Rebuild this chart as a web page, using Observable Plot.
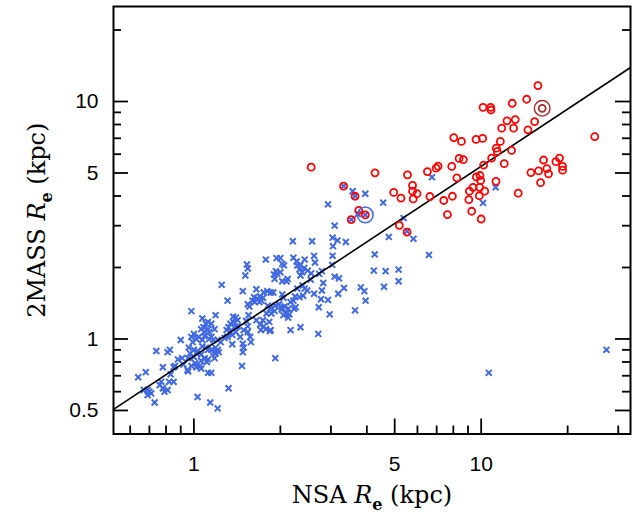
<!DOCTYPE html>
<html><head><meta charset="utf-8">
<script src="https://cdn.jsdelivr.net/npm/d3@7"></script>
<script src="https://cdn.jsdelivr.net/npm/@observablehq/plot@0.6"></script>
<style>body{margin:0;background:#fff}</style>
</head><body><div id="chart"></div>
<script>
// Blue crosses: NSA Re (x) and 2MASS Re (y), kpc
const blueNSA = [2.93,3.09,3.57,3.95,4.56,6.74,11.23,10.15,5.37,5.52,3.32,3.64,3.95,3.53,3.72,3.04,3.16,3.05,3.38,3.04,2.58,2.21,4.77,5.81,4.26,6.58,4.23,4.65,5.16,5.16,4.59,3.81,3.92,3.96,3.64,2.97,2.71,3.33,3.18,2.93,3.09,3.20,2.82,2.79,2.77,2.79,3.03,2.62,2.64,2.43,2.22,2.73,2.35,2.42,2.33,2.38,2.49,2.28,2.56,2.35,2.55,2.39,2.43,2.29,2.48,2.62,2.25,2.33,2.40,2.22,2.17,2.26,2.72,2.23,2.35,2.17,1.92,2.10,2.15,2.05,2.13,2.07,2.03,2.05,1.98,1.92,2.02,2.13,1.94,2.00,2.03,2.06,1.78,1.53,1.54,1.51,1.93,1.90,1.95,2.00,1.91,2.12,2.10,2.03,2.29,1.25,1.48,1.31,1.65,1.80,1.85,1.89,1.75,1.70,1.74,1.72,1.66,1.62,1.60,1.63,1.54,1.56,1.69,1.81,1.84,1.79,1.91,1.86,2.02,1.74,1.70,1.75,1.78,1.84,1.65,1.55,1.52,1.54,1.54,1.57,1.40,1.42,1.37,1.34,1.39,1.42,1.32,1.30,1.34,1.36,1.31,1.28,1.40,1.36,1.19,1.07,0.98,1.08,1.10,1.12,1.15,1.06,1.12,1.13,1.09,1.09,1.15,1.13,1.07,1.07,1.10,1.12,1.15,1.19,1.21,1.19,1.17,1.06,1.09,1.12,1.03,1.02,1.00,0.97,0.955,1.00,1.06,0.98,1.02,1.05,1.06,1.12,1.15,0.955,0.92,0.91,0.88,0.96,0.90,0.825,0.81,0.74,0.86,0.85,0.83,0.78,0.85,0.82,0.77,0.76,0.78,0.79,0.81,0.68,0.64,0.67,0.69,0.70,0.71,0.69,0.73,1.03,1.14,1.21,1.32,1.47,1.21,1.24,1.49,1.48,1.00,0.98,1.02,1.04,0.99,1.11,1.18,1.22,0.95,1.01,1.37,1.71,1.83,1.85,27.3,10.63,1.18,1.45,1.49,1.58,1.48,1.17];
const blue2MASS = [3.69,3.00,4.19,4.09,3.75,4.80,4.35,3.74,3.23,2.84,4.40,3.99,3.33,3.18,3.36,2.67,2.60,2.46,2.56,2.24,2.58,2.58,2.69,2.64,2.27,2.26,1.94,1.93,1.96,1.75,1.66,1.65,1.59,1.45,1.32,1.27,1.05,1.64,1.55,1.46,1.83,1.80,1.72,1.60,1.47,1.93,2.05,2.24,2.10,2.16,2.20,1.88,2.05,1.99,1.96,1.91,1.94,2.12,1.89,1.85,1.78,1.68,1.63,1.63,1.60,1.55,1.51,1.50,1.52,1.45,1.43,1.36,1.36,1.34,1.12,1.09,0.83,1.28,1.27,1.26,1.34,1.37,1.54,1.49,1.40,1.38,1.36,1.23,2.19,2.19,2.07,2.04,2.16,2.06,1.98,1.85,1.93,1.87,1.88,1.91,1.79,1.79,1.75,1.75,2.04,1.69,1.59,1.45,1.62,1.59,1.57,1.57,1.57,1.51,1.49,1.45,1.48,1.50,1.45,1.43,1.40,1.37,1.43,1.38,1.34,1.28,1.31,1.28,1.33,1.20,1.15,1.13,1.10,1.08,1.20,1.26,1.19,1.13,1.07,1.02,1.23,1.20,1.18,1.16,1.13,1.13,1.12,1.09,1.07,1.04,1.02,1.01,1.07,0.95,1.26,1.22,1.31,1.12,1.16,1.18,1.16,1.10,1.10,1.07,1.07,1.03,1.02,1.00,0.99,0.93,0.92,0.90,0.90,0.92,0.90,0.87,0.88,0.86,0.83,0.82,0.89,0.87,0.90,0.87,0.83,0.84,0.81,0.77,0.76,0.77,0.75,0.72,0.72,0.73,0.78,0.83,0.82,0.92,0.99,0.90,0.88,0.89,0.77,0.76,0.71,0.76,0.66,0.66,0.66,0.64,0.62,0.60,0.61,0.725,0.69,0.61,0.61,0.60,0.59,0.58,0.54,0.57,0.54,0.51,0.62,0.77,0.99,0.97,0.92,0.88,1.05,1.02,1.00,1.02,0.97,0.80,0.83,0.88,0.74,0.79,1.24,1.09,1.18,1.09,0.90,0.72,1.10,1.02,1.09,0.97,0.955,0.99];

// Red circles: NSA Re (x) and 2MASS Re (y), kpc
const redNSA = [2.56,3.32,3.64,3.75,3.95,3.53,4.27,4.96,5.26,5.54,5.77,5.77,5.98,5.80,5.19,5.52,6.50,6.97,7.08,6.63,7.41,7.63,7.94,7.90,8.03,8.23,8.54,8.38,8.67,9.10,9.06,9.27,9.37,9.60,10.12,9.62,9.91,9.96,9.88,10.29,9.85,10.0,10.15,10.79,10.82,10.20,10.88,11.26,11.29,11.38,11.66,12.03,11.79,12.30,12.97,13.14,12.83,12.76,13.46,14.40,14.55,15.35,15.76,14.90,15.85,16.49,16.10,16.93,17.16,18.20,18.74,19.20,19.20,24.85];
const red2MASS = [5.29,4.40,3.99,3.48,3.33,3.18,5.01,4.14,3.92,4.91,4.43,4.19,4.09,3.89,3.01,2.82,5.07,5.24,5.34,3.98,3.83,3.34,3.99,5.33,7.05,4.77,6.79,5.76,5.69,4.19,3.86,3.45,4.35,6.92,6.99,4.81,4.88,4.65,4.35,4.19,4.01,3.20,9.45,9.45,9.21,5.40,5.78,4.61,6.36,6.16,6.79,5.47,7.72,8.29,7.72,8.39,9.83,6.22,4.11,10.22,7.60,8.23,11.67,5.02,5.10,5.67,4.55,5.22,4.96,5.58,5.78,5.33,5.14,7.12];

// Highlighted objects (ringed)
const ringBlueNSA = [3.95], ringBlue2MASS = [3.33];
const ringRedNSA = [16.31], ringRed2MASS = [9.36];

// Fitted relation (end points read at the frame edges)
const fitNSA = [0.525, 33.1];
const fit2MASS = [0.505, 13.9];

// Axis ticks and labels
const xMajor = [1, 5, 10];
const xMinor = [0.6, 0.7, 0.8, 0.9, 2, 3, 4, 6, 7, 8, 9, 20, 30];
const yMajor = [0.5, 1, 5, 10];
const yMinor = [0.6, 0.7, 0.8, 0.9, 2, 3, 4, 6, 7, 8, 9, 20];
const xTitle = "NSA Re (kpc)";
const yTitle = "2MASS Re (kpc)";

const W = 634, H = 516, mL = 113, mR = 4, mT = 6, mB = 82.5;
const pw = W - mL - mR, ph = H - mT - mB;
const majorLen = 15, minorLen = 8;
const blueC = "#4169e1", redC = "#ff0000", darkRed = "#a52a2a";

const bIdx = d3.range(blueNSA.length), rIdx = d3.range(redNSA.length);

const chart = Plot.plot({
  width: W, height: H,
  marginLeft: mL, marginRight: mR, marginTop: mT, marginBottom: mB,
  x: {type: "log", domain: [0.525, 33.1], axis: null},
  y: {type: "log", domain: [0.398, 25.12], axis: null},
  style: {background: "white", fontFamily: "Liberation Sans"},
  marks: [
    // ticks (inward) bottom, left, right
    Plot.tickX(xMajor, {x: d => d, insetTop: ph - majorLen, stroke: "black", strokeWidth: 1.8}),
    Plot.tickX(xMinor, {x: d => d, insetTop: ph - minorLen, stroke: "black", strokeWidth: 1.8}),
    Plot.tickY(yMajor, {y: d => d, insetRight: pw - majorLen, stroke: "black", strokeWidth: 1.8}),
    Plot.tickY(yMinor, {y: d => d, insetRight: pw - minorLen, stroke: "black", strokeWidth: 1.8}),
    Plot.tickY(yMajor, {y: d => d, insetLeft: pw - majorLen, stroke: "black", strokeWidth: 1.8}),
    Plot.tickY(yMinor, {y: d => d, insetLeft: pw - minorLen, stroke: "black", strokeWidth: 1.8}),
    // data
    Plot.dot(bIdx, {x: i => blueNSA[i], y: i => blue2MASS[i], symbol: "times", r: 2.8, stroke: blueC, strokeWidth: 2}),
    Plot.line(d3.range(fitNSA.length), {x: i => fitNSA[i], y: i => fit2MASS[i], stroke: "black", strokeWidth: 1.6}),
    Plot.dot(rIdx, {x: i => redNSA[i], y: i => red2MASS[i], r: 3.5, stroke: redC, strokeWidth: 1.8, fill: "none"}),
    Plot.dot([0], {x: i => ringRedNSA[i], y: i => ringRed2MASS[i], r: 3.5, stroke: darkRed, strokeWidth: 1.8, fill: "none"}),
    Plot.dot([0], {x: i => ringRedNSA[i], y: i => ringRed2MASS[i], r: 7.8, stroke: darkRed, strokeWidth: 1.4, fill: "none"}),
    Plot.dot([0], {x: i => ringBlueNSA[i], y: i => ringBlue2MASS[i], r: 7.8, stroke: blueC, strokeWidth: 1.5, fill: "none"}),
    // tick labels
    Plot.text(xMajor, {x: d => d, text: d => String(d), frameAnchor: "bottom", dy: 37, fontSize: 21, fill: "black"}),
    Plot.text(yMajor, {y: d => d, text: d => String(d), frameAnchor: "left", dx: -15, textAnchor: "end", fontSize: 21, fill: "black"}),
    // axis titles
    Plot.text([xTitle], {text: d => d, frameAnchor: "bottom", dy: 69, textAnchor: "middle", fontSize: 24, fontFamily: "DejaVu Serif", fill: "black"}),
    Plot.text([yTitle], {text: d => d, frameAnchor: "left", dx: -76, textAnchor: "middle", rotate: -90, fontSize: 24, fontFamily: "DejaVu Serif", fill: "black"}),
    Plot.frame({stroke: "black", strokeWidth: 2})
  ]
});

document.getElementById("chart").appendChild(chart);

// Italic R with subscript e in the titles
d3.select(chart).selectAll("text").filter(function () {
  return this.textContent === xTitle || this.textContent === yTitle;
}).each(function () {
  const pre = this.textContent === xTitle ? "NSA " : "2MASS ";
  const t = d3.select(this);
  t.text(null);
  t.append("tspan").text(pre);
  t.append("tspan").attr("font-style", "italic").text("R");
  t.append("tspan").attr("font-size", "16").attr("font-weight", "bold").attr("dy", "7").text("e");
  t.append("tspan").attr("dy", "-7").text(" (kpc)");
});
</script>
</body></html>
